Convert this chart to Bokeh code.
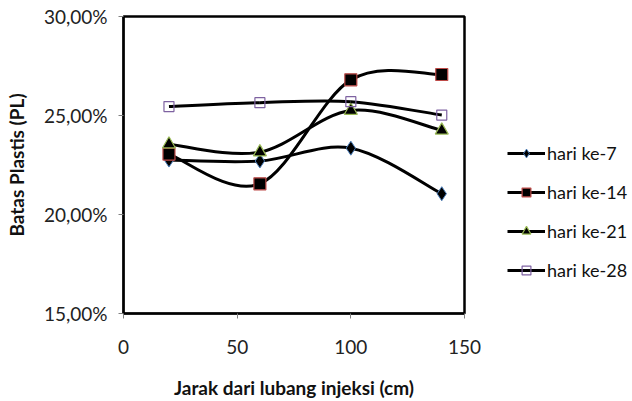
from bokeh.plotting import figure
from bokeh.layouts import row
from bokeh.models import FixedTicker, Range1d, Legend, LegendItem
from bokeh.embed import file_html
from bokeh.resources import INLINE

x_vals = [20, 60, 100, 140]
series_names = ["hari ke-7", "hari ke-14", "hari ke-21", "hari ke-28"]
hari7 = [22.75, 22.70, 23.35, 21.05]
hari14 = [23.05, 21.55, 26.80, 27.07]
hari21 = [23.55, 23.15, 25.25, 24.25]
hari28 = [25.45, 25.65, 25.70, 25.02]
y_ticks = [15, 20, 25, 30]
x_ticks = [0, 50, 100, 150]
y_tick_labels = {15: "15,00%", 20: "20,00%", 25: "25,00%", 30: "30,00%"}

FONT = "Lato"

p = figure(width=481, height=401, output_backend="svg", toolbar_location=None,
           x_range=Range1d(0, 150), y_range=Range1d(15, 30),
           min_border_left=123, min_border_right=17, min_border_top=16, min_border_bottom=88)
p.xgrid.visible = False
p.ygrid.visible = False
p.outline_line_color = "black"
p.outline_line_width = 2.5
p.background_fill_color = "white"
p.border_fill_color = "white"

for ax in (p.xaxis[0], p.yaxis[0]):
    ax.axis_line_color = "black"
    ax.axis_line_width = 2
    ax.major_tick_line_color = "#808080"
    ax.major_tick_line_width = 1
    ax.major_tick_out = 5
    ax.major_tick_in = 0
    ax.minor_tick_line_color = None
    ax.major_label_text_font = FONT
    ax.major_label_text_font_size = "19px"
    ax.major_label_text_color = "#222222"
    ax.axis_label_text_font = FONT
    ax.axis_label_text_font_style = "bold"
    ax.axis_label_text_font_size = "19px"
    ax.axis_label_text_color = "#111111"

p.xaxis.ticker = FixedTicker(ticks=x_ticks)
p.yaxis.ticker = FixedTicker(ticks=y_ticks)
p.yaxis.major_label_overrides = y_tick_labels
p.xaxis.major_label_standoff = 21
p.yaxis.major_label_standoff = 11
p.xaxis.axis_label = "Jarak dari lubang injeksi (cm)"
p.yaxis.axis_label = "Batas Plastis (PL)"
p.xaxis.axis_label_standoff = 19
p.yaxis.axis_label_standoff = 13

# side figure that only hosts the legend (its frame is aligned with the main one)
pl = figure(width=151, height=401, output_backend="svg", toolbar_location=None,
            x_range=Range1d(1000, 1001), y_range=Range1d(1000, 1001),
            min_border_left=0, min_border_right=0, min_border_top=16, min_border_bottom=88)
pl.axis.visible = False
pl.grid.visible = False
pl.outline_line_color = None
pl.background_fill_color = "white"
pl.border_fill_color = "white"


def bezier_segments(xs, ys):
    n = len(xs)
    x0, y0, x1, y1, cx0, cy0, cx1, cy1 = [], [], [], [], [], [], [], []
    for i in range(n - 1):
        pm = i - 1 if i > 0 else i
        pp = i + 2 if i + 2 < n else i + 1
        x0.append(xs[i]); y0.append(ys[i])
        x1.append(xs[i + 1]); y1.append(ys[i + 1])
        cx0.append(xs[i] + (xs[i + 1] - xs[pm]) / 6.0)
        cy0.append(ys[i] + (ys[i + 1] - ys[pm]) / 6.0)
        cx1.append(xs[i + 1] - (xs[pp] - xs[i]) / 6.0)
        cy1.append(ys[i + 1] - (ys[pp] - ys[i]) / 6.0)
    return dict(x0=x0, y0=y0, x1=x1, y1=y1, cx0=cx0, cy0=cy0, cx1=cx1, cy1=cy1)


styles = [
    dict(marker="diamond", size=14, fill_color="black", line_color="#4a7ebb", line_width=1),
    dict(marker="square", size=12, fill_color="black", line_color="#be4b48", line_width=1.2),
    dict(marker="triangle", size=13, fill_color="black", line_color="#98b954", line_width=1.2),
    dict(marker="square", size=10, fill_color=None, line_color="#7e62a1", line_width=1.2),
]

items = []
for name, ys, st in zip(series_names, [hari7, hari14, hari21, hari28], styles):
    seg = bezier_segments(x_vals, ys)
    p.bezier(line_color="black", line_width=3, **seg)
    p.scatter(x_vals, ys, **st)
    # same series in the legend-only figure (outside its visible range)
    lb = pl.bezier(line_color="black", line_width=3, **seg)
    ls = pl.scatter(x_vals, ys, **st)
    items.append(LegendItem(label=name, renderers=[lb, ls]))

legend = Legend(items=items, location=(26, 32), orientation="vertical",
                border_line_color=None, background_fill_alpha=0,
                padding=0, margin=0, spacing=17, glyph_width=38, glyph_height=22,
                label_standoff=2, label_text_font=FONT, label_text_font_size="18px",
                label_text_color="#111111", label_height=22)
pl.add_layout(legend, "center")

layout = row(p, pl, spacing=0)
open("out.html", "w").write(file_html(layout, INLINE))
